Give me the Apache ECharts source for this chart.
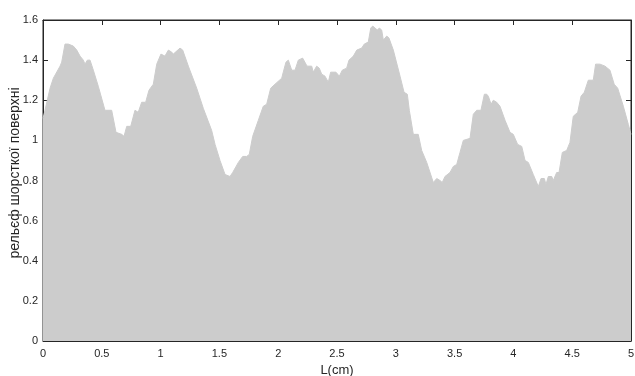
<!DOCTYPE html>
<html><head><meta charset="utf-8">
<script src="https://cdn.jsdelivr.net/npm/echarts@6/dist/echarts.min.js"></script>
<style>html,body{margin:0;padding:0;background:#fff}#c{width:635px;height:376px}</style>
</head><body><div id="c"></div>
<script>
// Position along the surface (cm)
const xPos = [0,0.017,0.060,0.088,0.145,0.159,0.187,0.215,0.258,0.287,0.315,0.343,0.357,0.377,0.400,0.428,0.470,0.527,0.584,0.621,0.669,0.689,0.712,0.746,0.782,0.810,0.839,0.873,0.901,0.938,0.967,1.003,1.037,1.066,1.094,1.108,1.165,1.188,1.236,1.307,1.363,1.434,1.463,1.505,1.548,1.590,1.613,1.661,1.698,1.732,1.754,1.783,1.831,1.873,1.902,1.936,1.973,2.030,2.043,2.066,2.086,2.115,2.143,2.171,2.208,2.236,2.247,2.285,2.298,2.327,2.349,2.370,2.398,2.426,2.446,2.491,2.520,2.545,2.582,2.602,2.639,2.668,2.710,2.732,2.766,2.787,2.804,2.823,2.843,2.860,2.880,2.894,2.923,2.942,2.979,3.036,3.070,3.098,3.115,3.149,3.191,3.220,3.263,3.319,3.348,3.376,3.395,3.418,3.461,3.489,3.518,3.546,3.574,3.631,3.659,3.688,3.724,3.753,3.773,3.787,3.810,3.829,3.858,3.886,3.929,3.971,3.999,4.036,4.071,4.099,4.127,4.169,4.212,4.235,4.263,4.277,4.297,4.326,4.339,4.368,4.388,4.416,4.453,4.481,4.509,4.547,4.575,4.603,4.637,4.660,4.679,4.699,4.736,4.779,4.821,4.857,4.887,4.935,4.977,5.0];
// Surface relief height
const relief = [1.11,1.15,1.26,1.31,1.37,1.39,1.48,1.48,1.47,1.45,1.42,1.40,1.38,1.40,1.40,1.35,1.27,1.15,1.15,1.04,1.03,1.02,1.07,1.07,1.15,1.14,1.19,1.19,1.25,1.28,1.38,1.43,1.42,1.45,1.44,1.43,1.46,1.45,1.37,1.26,1.16,1.05,0.98,0.90,0.83,0.82,0.84,0.89,0.92,0.92,0.93,1.02,1.10,1.17,1.18,1.26,1.28,1.31,1.34,1.39,1.40,1.35,1.35,1.40,1.41,1.38,1.37,1.37,1.34,1.37,1.36,1.33,1.32,1.29,1.34,1.34,1.32,1.35,1.36,1.40,1.42,1.45,1.46,1.48,1.49,1.56,1.57,1.56,1.55,1.56,1.55,1.50,1.52,1.51,1.45,1.32,1.24,1.23,1.15,1.03,1.03,0.95,0.89,0.79,0.81,0.80,0.79,0.82,0.84,0.87,0.88,0.94,1.00,1.01,1.13,1.15,1.15,1.23,1.23,1.22,1.18,1.20,1.19,1.17,1.10,1.04,1.03,0.98,0.97,0.90,0.89,0.83,0.77,0.81,0.81,0.78,0.82,0.82,0.80,0.84,0.84,0.94,0.95,0.99,1.12,1.14,1.22,1.24,1.30,1.30,1.30,1.38,1.38,1.37,1.35,1.28,1.26,1.17,1.08,1.03];
const xTicks = ['0','0.5','1','1.5','2','2.5','3','3.5','4','4.5','5'];
const yTicks = ['0','0.2','0.4','0.6','0.8','1','1.2','1.4','1.6'];
const xLabel = 'L(cm)';
const yLabel = 'рельєф шорсткої поверхні';

const font = 'Liberation Sans, Arial, sans-serif';
const axisCol = '#262626';
const chart = echarts.init(document.getElementById('c'), null, {renderer: 'canvas'});
chart.setOption({
  animation: false,
  grid: [{left: 43, right: 4, top: 20, bottom: 35, outerBoundsMode: 'none',
          show: true, borderColor: axisCol, borderWidth: 1}],
  graphic: [
    {type: 'text', x: 337, y: 370, silent: true,
     style: {text: xLabel, fill: axisCol, font: '13px ' + font, align: 'center', verticalAlign: 'middle'}},
    {type: 'text', x: 15, y: 173, rotation: Math.PI / 2, silent: true,
     style: {text: yLabel, fill: axisCol, font: '14px ' + font, align: 'center', verticalAlign: 'middle'}}
  ],
  xAxis: [{
      type: 'value', min: 0, max: 5, interval: 0.5, position: 'bottom',
      axisLine: {show: true, onZero: false, lineStyle: {color: axisCol}},
      axisTick: {show: true, inside: true, lineStyle: {color: axisCol}},
      splitLine: {show: false},
      axisLabel: {color: axisCol, fontFamily: font, fontSize: 11, margin: 7,
        formatter: v => xTicks[Math.round(v / 0.5)] ?? ''}
    }, {
      type: 'value', min: 0, max: 5, interval: 0.5, position: 'top',
      axisLine: {show: true, onZero: false, lineStyle: {color: axisCol}},
      axisTick: {show: true, inside: true, lineStyle: {color: axisCol}},
      splitLine: {show: false},
      axisLabel: {show: true, color: 'rgba(0,0,0,0)'}
  }],
  yAxis: [{
      type: 'value', min: 0, max: 1.6, interval: 0.2, position: 'left',
      axisLine: {show: true, onZero: false, lineStyle: {color: axisCol}},
      axisTick: {show: true, inside: true, lineStyle: {color: axisCol}},
      splitLine: {show: false},
      axisLabel: {color: axisCol, fontFamily: font, fontSize: 11, margin: 5,
        formatter: v => yTicks[Math.round(v / 0.2)] ?? ''}
    }, {
      type: 'value', min: 0, max: 1.6, interval: 0.2, position: 'right',
      axisLine: {show: true, onZero: false, lineStyle: {color: axisCol}},
      axisTick: {show: true, inside: true, lineStyle: {color: axisCol}},
      splitLine: {show: false},
      axisLabel: {show: true, color: 'rgba(0,0,0,0)'}
  }],
  series: [{
    type: 'line',
    data: xPos.map((x, i) => [x, relief[i]]),
    showSymbol: false, symbol: 'none',
    lineStyle: {color: '#cccccc', width: 1},
    itemStyle: {color: '#cccccc'},
    areaStyle: {color: '#cccccc', opacity: 1}
  }]
});
</script></body></html>
